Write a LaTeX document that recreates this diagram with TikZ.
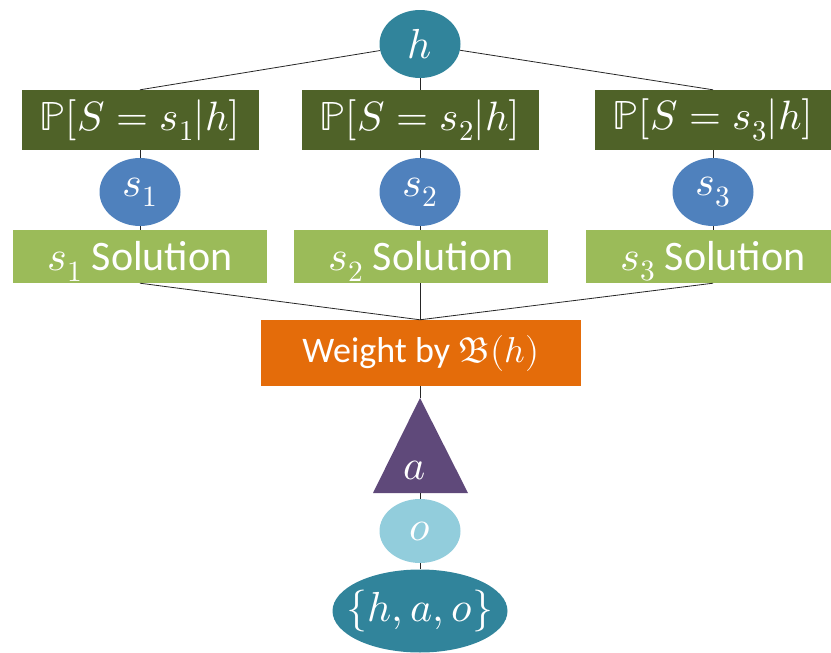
\documentclass[tikz,border=0pt]{standalone}
\usepackage{fontspec}
\usepackage{unicode-math}
\setmainfont{Carlito}
\setmathfont{Latin Modern Math}
\usetikzlibrary{shapes.geometric}
\definecolor{tealc}{HTML}{31849B}
\definecolor{dgreen}{HTML}{4F6228}
\definecolor{sblue}{HTML}{4F81BD}
\definecolor{lgreen}{HTML}{9BBB59}
\definecolor{orangec}{HTML}{E46C0A}
\definecolor{purplec}{HTML}{5F497A}
\definecolor{lblue}{HTML}{92CDDC}
\begin{document}
\begin{tikzpicture}[x=1pt,y=-1pt,
  ell/.style={ellipse, inner sep=0pt, text=white, font=\fontsize{42}{44}\selectfont},
  pbox/.style={rectangle, fill=dgreen, inner sep=0pt, minimum width=237pt, minimum height=60pt, text=white, font=\fontsize{41}{44}\selectfont},
  solbox/.style={rectangle, fill=lgreen, inner sep=0pt, minimum width=254pt, minimum height=53pt},
  soltext/.style={text=white, inner sep=0pt, font=\fontsize{42}{44}\selectfont},
  conn/.style={draw=black!85, line width=0.8pt}]
\useasboundingbox (0,0) rectangle (831,653);
\coordinate (apex) at (420,398);
\coordinate (base) at (420,493);
\node[ell, fill=tealc, minimum width=81pt, minimum height=68pt] (h) at (420,44) {$h$};
\node[pbox] (p1) at (140,120) {$\mathbb{P}[S=s_1|h]$};
\node[pbox] (p2) at (420,120) {$\mathbb{P}[S=s_2|h]$};
\node[pbox] (p3) at (713,120) {$\mathbb{P}[S=s_3|h]$};
\node[ell, fill=sblue, minimum width=81pt, minimum height=68pt] (s1) at (140,192) {$s_1$};
\node[ell, fill=sblue, minimum width=81pt, minimum height=68pt] (s2) at (420,192) {$s_2$};
\node[ell, fill=sblue, minimum width=81pt, minimum height=68pt] (s3) at (713,192) {$s_3$};
\node[solbox, label={[soltext, yshift=-5pt]center:$s_1$ Solution}] (sol1) at (140,256.5) {};
\node[solbox, label={[soltext, yshift=-5pt]center:$s_2$ Solution}] (sol2) at (421,256.5) {};
\node[solbox, label={[soltext, yshift=-5pt]center:$s_3$ Solution}] (sol3) at (713,256.5) {};
\node[rectangle, fill=orangec, inner sep=0pt, minimum width=320pt, minimum height=66pt, text=white, font=\fontsize{36}{40}\selectfont] (w) at (421,353) {Weight by $\mathfrak{B}(h)$};
\fill[purplec] (apex) -- (468,493) -- (373,493) -- cycle;
\node[text=white, inner sep=0pt, font=\fontsize{42}{44}\selectfont] (a) at (415,470) {$a$};
\node[ell, fill=lblue, minimum width=81pt, minimum height=64pt] (o) at (420,531) {$o$};
\node[ellipse, fill=tealc, inner sep=0pt, minimum width=175pt, minimum height=83pt,
  label={[text=white, font=\fontsize{42}{44}\selectfont]center:$\{h,a,o\}$}] (hao) at (420,611) {};
\draw[conn] (h) -- (p1.north);
\draw[conn] (h) -- (p2.north);
\draw[conn] (h) -- (p3.north);
\draw[conn] (p1) -- (s1); \draw[conn] (p2) -- (s2); \draw[conn] (p3) -- (s3);
\draw[conn] (s1) -- (sol1); \draw[conn] (s2) -- (sol2.north -| s2); \draw[conn] (s3) -- (sol3);
\draw[conn] (sol1.south) -- (w.north -| p2);
\draw[conn] (sol2.south -| p2) -- (w.north -| p2);
\draw[conn] (sol3.south) -- (w.north -| p2);
\draw[conn] (w.south -| apex) -- (apex);
\draw[conn] (base) -- (o);
\draw[conn] (o) -- (hao);
\end{tikzpicture}
\end{document}
